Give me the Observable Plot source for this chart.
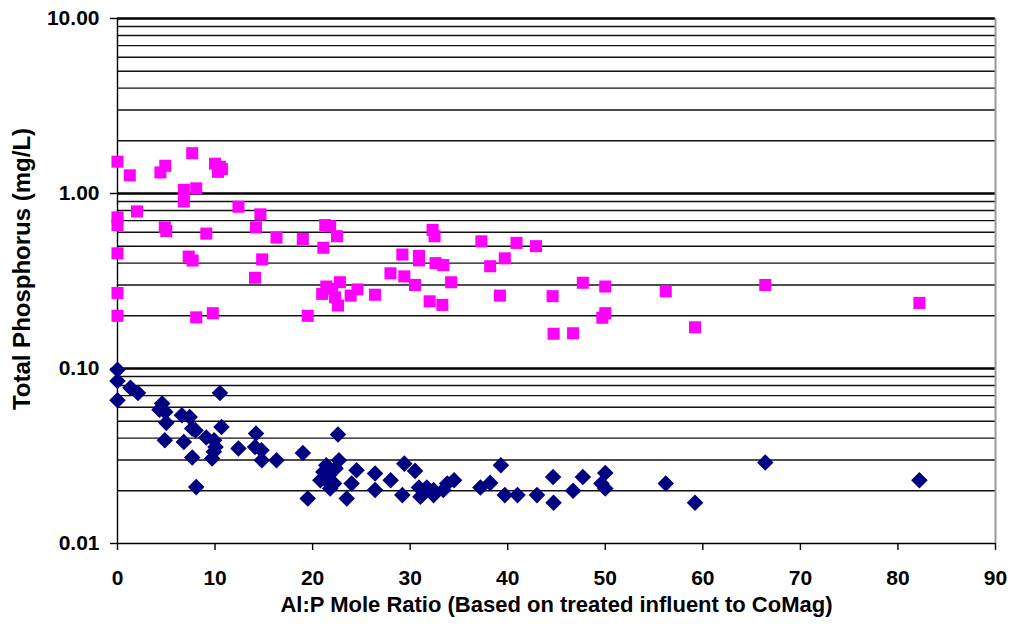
<!DOCTYPE html>
<html>
<head>
<meta charset="utf-8">
<script src="https://cdn.jsdelivr.net/npm/d3@7"></script>
<script src="https://cdn.jsdelivr.net/npm/@observablehq/plot@0.6"></script>
<style>
  html, body { margin: 0; padding: 0; background: #fff; }
</style>
</head>
<body>
<div id="chart"></div>
<script>
// Pink squares series
const pinkX = [0, 0, 0, 0, 0, 0, 1.26, 2.0, 4.4, 4.9, 7.66, 6.8, 6.8, 8.07, 10.0, 10.5, 10.3, 10.7,
  4.85, 5.0, 7.3, 7.7, 8.07, 9.77, 9.1, 12.4, 14.65, 14.2, 14.83, 14.1, 16.3, 19.0, 21.1, 21.3, 21.8,
  22.5, 19.5, 20.98, 21.4, 22.8, 22.3, 22.6, 23.9, 24.6, 26.4, 22.0, 29.2, 27.98, 29.4, 30.5, 30.9,
  30.9, 32.3, 32.5, 32.6, 33.4, 34.2, 32.0, 33.3, 37.3, 38.2, 39.7, 40.9, 42.9, 39.2, 44.6, 44.7,
  46.7, 47.7, 50.0, 50.0, 49.7, 56.2, 59.2, 66.4, 82.2];
const pinkY = [1.52, 0.73, 0.66, 0.455, 0.27, 0.20, 1.27, 0.79, 1.32, 1.44, 1.70, 1.05, 0.90, 1.07, 1.48, 1.42, 1.33, 1.38,
  0.64, 0.61, 0.436, 0.414, 0.196, 0.207, 0.59, 0.84, 0.76, 0.64, 0.42, 0.33, 0.56, 0.55, 0.49, 0.66, 0.65,
  0.57, 0.20, 0.267, 0.294, 0.311, 0.255, 0.229, 0.261, 0.283, 0.264, 0.285, 0.448, 0.35, 0.336, 0.30, 0.44,
  0.415, 0.62, 0.57, 0.40, 0.39, 0.311, 0.242, 0.231, 0.533, 0.384, 0.426, 0.522, 0.50, 0.261, 0.259, 0.158,
  0.159, 0.309, 0.294, 0.207, 0.195, 0.276, 0.172, 0.30, 0.237];

// Navy diamonds series
const blueX = [0, 0, 0, 1.33, 2.1, 4.58, 4.9, 4.3, 5.0, 4.85, 6.6, 7.4, 7.66, 8.0, 6.8, 7.66, 8.07, 9.1,
  9.9, 10.05, 9.87, 9.7, 10.5, 10.66, 12.4, 14.2, 14.1, 14.76, 14.8, 16.3, 19.0, 19.5, 22.6, 22.7, 21.4,
  21.1, 20.8, 21.7, 21.8, 22.2, 22.35, 21.5, 23.5, 24.0, 24.5, 26.4, 26.4, 28.0, 29.2, 29.4, 30.5, 30.9,
  31.05, 31.7, 32.4, 33.4, 33.8, 34.5, 32.4, 37.2, 38.2, 39.3, 39.7, 41.0, 43.0, 44.65, 44.7, 46.7, 47.7,
  50.0, 49.6, 50.0, 56.2, 59.2, 66.4, 82.2];
const blueY = [0.0985, 0.0848, 0.0658, 0.0777, 0.0724, 0.063, 0.0564, 0.0582, 0.0489, 0.0389, 0.054, 0.0528, 0.0454, 0.0443, 0.038, 0.031, 0.021, 0.0403,
  0.0389, 0.0356, 0.0334, 0.0306, 0.0724, 0.0463, 0.0349, 0.0425, 0.0356, 0.0341, 0.0299, 0.0299, 0.0329, 0.0181, 0.042, 0.0299, 0.028,
  0.0256, 0.023, 0.0246, 0.0206, 0.022, 0.0268, 0.0226, 0.0181, 0.022, 0.0262, 0.0251, 0.0202, 0.023, 0.0189, 0.0286, 0.026, 0.0209,
  0.0185, 0.0209, 0.0202, 0.0202, 0.022, 0.023, 0.0189, 0.0209, 0.0222, 0.028, 0.0189, 0.0189, 0.0189, 0.024, 0.0171, 0.020, 0.024,
  0.0253, 0.022, 0.0206, 0.022, 0.0171, 0.029, 0.023];

const xTicks = [0, 10, 20, 30, 40, 50, 60, 70, 80, 90];
const yTicks = [0.01, 0.1, 1, 10];
const yMinor = [0.02, 0.03, 0.04, 0.05, 0.06, 0.07, 0.08, 0.09,
                0.2, 0.3, 0.4, 0.5, 0.6, 0.7, 0.8, 0.9,
                2, 3, 4, 5, 6, 7, 8, 9];
const yMajor = [0.1, 1, 10];
const xTitle = "Al:P Mole Ratio (Based on treated influent to CoMag)";
const yTitle = "Total Phosphorus (mg/L)";

const pink = pinkX.map((x, i) => ({x, y: pinkY[i]}));
const blue = blueX.map((x, i) => ({x, y: blueY[i]}));

const chart = Plot.plot({
  width: 1011,
  height: 628,
  marginLeft: 117,
  marginRight: 16,
  marginTop: 18,
  marginBottom: 85,
  style: {fontFamily: "'Liberation Sans', Arial, sans-serif", fontWeight: "bold", color: "#000", background: "#fff", overflow: "visible"},
  x: {domain: [0, 90]},
  y: {type: "log", domain: [0.01, 10]},
  marks: [
    Plot.ruleY(yMinor, {stroke: "#111", strokeWidth: 1.4}),
    Plot.ruleY(yMajor, {stroke: "#000", strokeWidth: 2.4}),
    Plot.ruleX([90], {stroke: "#999", strokeWidth: 2}),
    Plot.ruleY([0.01], {stroke: "#000", strokeWidth: 1.4}),
    Plot.ruleX([0], {stroke: "#000", strokeWidth: 1.4}),
    Plot.axisX({ticks: xTicks, tickSize: 7, tickPadding: 20, fontSize: 21, fontWeight: "bold", label: null, strokeWidth: 1.4}),
    Plot.axisY({ticks: yTicks, tickFormat: d3.format(".2f"), tickSize: 7, tickPadding: 11, fontSize: 21, fontWeight: "bold", label: null, strokeWidth: 1.4}),
    Plot.dot(pink, {x: "x", y: "y", symbol: "square", r: 6.8, fill: "#FF00FF", stroke: "none"}),
    Plot.dot(blue, {x: "x", y: "y", symbol: "square", rotate: 45, r: 6.6, fill: "#000080", stroke: "none"}),
    Plot.text([yTitle], {frameAnchor: "left", textAnchor: "middle", rotate: -90, dx: -95, dy: -12, fontSize: 24, fontWeight: "bold", fill: "#000"}),
    Plot.text([xTitle], {frameAnchor: "bottom", dy: 68, fontSize: 22, fontWeight: "bold", fill: "#000"})
  ]
});
document.getElementById("chart").appendChild(chart);
</script>
</body>
</html>
